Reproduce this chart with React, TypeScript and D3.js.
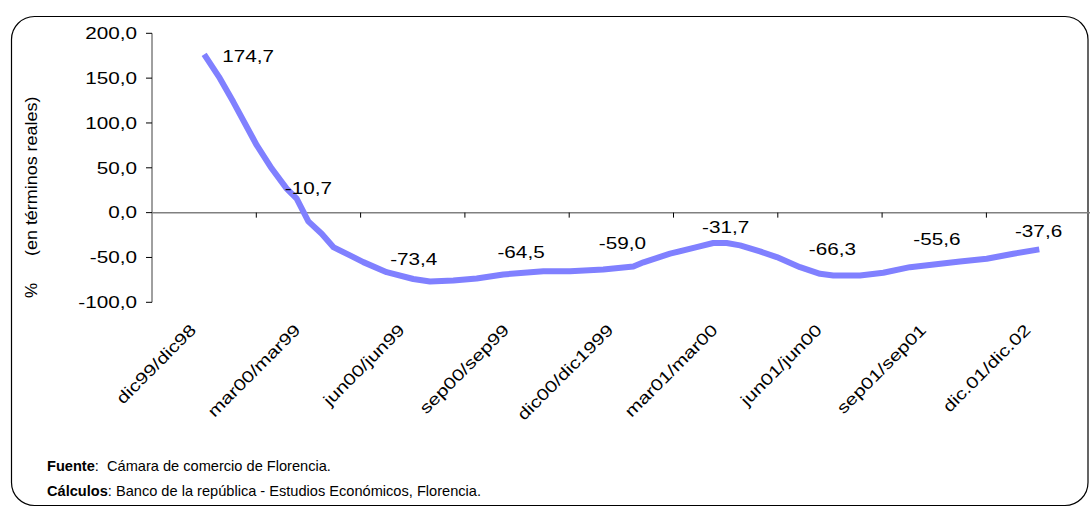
import React from 'react';
import * as d3 from 'd3';

// ---- data ----
const categories = [
  'dic99/dic98', 'mar00/mar99', 'jun00/jun99', 'sep00/sep99', 'dic00/dic1999',
  'mar01/mar00', 'jun01/jun00', 'sep01/sep01', 'dic.01/dic.02',
];
const quarterValues = [174.7, -10.7, -73.4, -64.5, -59.0, -31.7, -66.3, -55.6, -37.6];
const yTicks = [-100, -50, 0, 50, 100, 150, 200];

// line readings: position in category units (0 = left edge of first category), value in %
const linePos = [
  0.5, 0.642, 0.779, 1.004, 1.148, 1.291, 1.387, 1.499, 1.627, 1.738,
  1.898, 2.026, 2.25, 2.505, 2.665, 2.889, 3.113, 3.368, 3.752, 4.008,
  4.327, 4.615, 4.712, 4.967, 5.222, 5.381, 5.51, 5.638, 5.829, 5.99,
  6.213, 6.405, 6.532, 6.788, 7.011, 7.267, 7.747, 8.003, 8.258, 8.507,
];
const lineValues = [
  176.5, 151.5, 123.6, 75.2, 49.2, 26.8, 15.6, -9.7, -23.5, -38.4,
  -47.7, -55.2, -66.4, -74.0, -76.8, -75.6, -73.5, -69.0, -65.3, -65.3,
  -63.4, -60.0, -55.4, -45.8, -38.4, -33.9, -33.9, -36.5, -43.2, -49.6,
  -60.8, -68.2, -70.0, -70.0, -67.0, -60.8, -54.4, -51.4, -45.8, -41.0,
];

// ---- layout ----
const W = 1090;
const H = 507;
const FONT = '"Liberation Sans", Arial, Helvetica, sans-serif';
const FS = 16.3;
const SX = 1.27;
// per-label offset (dx, baseline dy) from its point
const labelLayout = [
  { anchor: 'start', dx: 18, dy: 6 },
  { anchor: 'middle', dx: 0, dy: -28.5 },
  { anchor: 'middle', dx: 1, dy: -13 },
  { anchor: 'middle', dx: 4, dy: -12.7 },
  { anchor: 'middle', dx: 1, dy: -16.8 },
  { anchor: 'middle', dx: 0, dy: -8 },
  { anchor: 'middle', dx: 2.5, dy: -17.3 },
  { anchor: 'middle', dx: 2.7, dy: -17 },
  { anchor: 'middle', dx: 0, dy: -9.3 },
];

const fmt = (v: number) => v.toFixed(1).replace('.', ',');

export default function App() {
  const x = d3.scaleLinear().domain([0, categories.length]).range([152, 1090.7]);
  const y = d3.scaleLinear().domain([-100, 200]).range([302.3, 33.3]);

  const pts: [number, number][] = linePos.map((p, i) => [p, lineValues[i]]);
  const line = d3
    .line<[number, number]>()
    .x((d) => x(d[0]))
    .y((d) => y(d[1]))
    .curve(d3.curveLinear);

  const x0 = x(0);
  const xEnd = x(categories.length);

  return (
    <svg
      width={W}
      height={H}
      style={{ position: 'absolute', left: 0, top: 0, background: '#fff' }}
      fontFamily={FONT}
    >
      <rect x={0} y={0} width={W} height={H} fill="#fff" />
      {/* frame */}
      <rect x={11.5} y={16.5} width={1076.5} height={489} rx={23} ry={23} fill="none" stroke="#000" strokeWidth={1.2} />

      {/* y axis */}
      <line x1={x0} x2={x0} y1={y(200)} y2={y(-100)} stroke="#404040" strokeWidth={1} />
      {yTicks.map((t) => (
        <g key={t}>
          <line x1={x0 - 6} x2={x0} y1={y(t)} y2={y(t)} stroke="#000" strokeWidth={1} />
          <text
            transform={`translate(${x0 - 15},${y(t) + 5.8}) scale(${SX},1)`}
            textAnchor="end"
            fontSize={FS}
            fill="#000"
          >
            {fmt(t)}
          </text>
        </g>
      ))}

      {/* x axis at zero */}
      <line x1={x0} x2={xEnd} y1={y(0)} y2={y(0)} stroke="#808080" strokeWidth={1.5} />
      {d3.range(1, categories.length + 1).map((i) => (
        <line key={i} x1={x(i)} x2={x(i)} y1={y(0)} y2={y(0) + 5} stroke="#000" strokeWidth={1} />
      ))}

      {/* category labels */}
      {categories.map((c, i) => (
        <text
          key={c}
          transform={`translate(${x(i + 0.5) - 7},331) rotate(-45) scale(${SX},1)`}
          textAnchor="end"
          fontSize={FS}
          fill="#000"
        >
          {c}
        </text>
      ))}

      {/* y axis title */}
      <text transform={`translate(37,298) rotate(-90) scale(1.05,1)`} fontSize={FS} fill="#000">
        %
      </text>
      <text transform={`translate(37,256) rotate(-90) scale(1.1,1)`} fontSize={FS} fill="#000">
        (en términos reales)
      </text>

      {/* series line */}
      <path d={line(pts) || ''} fill="none" stroke="#8080ff" strokeWidth={6} strokeLinejoin="round" />

      {/* data labels */}
      {quarterValues.map((v, i) => {
        const L = labelLayout[i];
        return (
          <text
            key={i}
            transform={`translate(${x(i + 0.5) + L.dx},${y(v) + L.dy}) scale(${SX},1)`}
            textAnchor={L.anchor as any}
            fontSize={FS}
            fill="#000"
          >
            {fmt(v)}
          </text>
        );
      })}

      {/* footnotes */}
      <text transform={`translate(47,471)`} fontSize={14.6} fill="#000" style={{ whiteSpace: 'pre' }}>
        <tspan fontWeight="bold">Fuente</tspan>
        <tspan>{':  Cámara de comercio de Florencia.'}</tspan>
      </text>
      <text transform={`translate(47,496)`} fontSize={14.6} fill="#000" style={{ whiteSpace: 'pre' }}>
        <tspan fontWeight="bold">Cálculos</tspan>
        <tspan>{': Banco de la república - Estudios Económicos, Florencia.'}</tspan>
      </text>
    </svg>
  );
}
